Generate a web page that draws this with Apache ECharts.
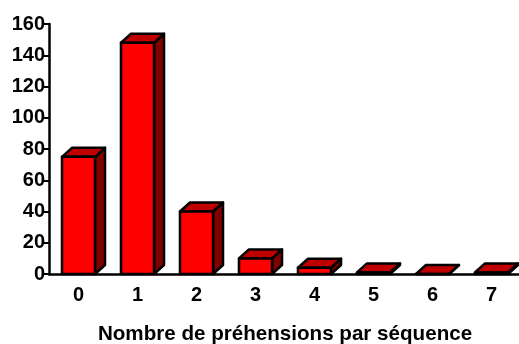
<!DOCTYPE html>
<html>
<head>
<meta charset="utf-8">
<script src="https://cdn.jsdelivr.net/npm/echarts@6/dist/echarts.min.js"></script>
<style>
  html, body { margin: 0; padding: 0; background: #fff; }
  #chart { width: 519px; height: 344px; }
</style>
</head>
<body>
<div id="chart"></div>
<script>
// Number of grasps per sequence and how many sequences had each count
const categories = ['0', '1', '2', '3', '4', '5', '6', '7'];
const counts = [75, 148, 40, 10, 4, 1, 0, 1];
const yTicks = { min: 0, max: 160, step: 20 };
const xTitle = 'Nombre de préhensions par séquence';

const FONT = '"Liberation Sans", Arial, sans-serif';
const DEPTH_X = 10, DEPTH_Y = 9;

// Pseudo-3D bar: front face, top face and right side face
function renderBar(params, api) {
  const idx = api.value(0);
  const val = api.value(1);
  const topPt = api.coord([idx, val]);
  const basePt = api.coord([idx, 0]);
  const w = api.size([1, 0])[0] * 0.56;
  const x0 = topPt[0] - w / 2, x1 = topPt[0] + w / 2;
  const yt = topPt[1], yb = basePt[1];
  const stroke = { stroke: '#000', lineWidth: 2.5, lineJoin: 'round' };
  return {
    type: 'group',
    children: [
      { type: 'polygon',
        shape: { points: [[x1, yb], [x1 + DEPTH_X, yb - DEPTH_Y], [x1 + DEPTH_X, yt - DEPTH_Y], [x1, yt]] },
        style: Object.assign({ fill: '#800000' }, stroke) },
      { type: 'polygon',
        shape: { points: [[x0, yt], [x0 + DEPTH_X, yt - DEPTH_Y], [x1 + DEPTH_X, yt - DEPTH_Y], [x1, yt]] },
        style: Object.assign({ fill: '#c00000' }, stroke) },
      { type: 'rect',
        shape: { x: x0, y: yt, width: w, height: yb - yt },
        style: Object.assign({ fill: '#ff0000' }, stroke) }
    ]
  };
}

const chart = echarts.init(document.getElementById('chart'), null, { renderer: 'canvas' });
chart.setOption({
  animation: false,
  backgroundColor: '#ffffff',
  grid: { left: 49, top: 24, width: 472, height: 250, containLabel: false, outerBoundsMode: 'none' },
  xAxis: {
    type: 'category',
    data: categories,
    boundaryGap: true,
    name: xTitle,
    nameLocation: 'middle',
    nameGap: 50,
    nameTextStyle: { fontFamily: FONT, fontWeight: 'bold', fontSize: 20.6, color: '#000' },
    axisLine: { lineStyle: { color: '#000', width: 2.5 } },
    axisTick: { inside: true, length: 4, lineStyle: { color: '#000', width: 2 } },
    axisLabel: { fontFamily: FONT, fontWeight: 'bold', fontSize: 20, color: '#000', margin: 11 },
    splitLine: { show: false }
  },
  yAxis: {
    type: 'value',
    min: yTicks.min,
    max: yTicks.max,
    interval: yTicks.step,
    axisLine: { show: true, lineStyle: { color: '#000', width: 2.5 } },
    axisTick: { show: true, length: 5, lineStyle: { color: '#000', width: 2 } },
    axisLabel: { fontFamily: FONT, fontWeight: 'bold', fontSize: 20, color: '#000', margin: 4 },
    splitLine: { show: false }
  },
  series: [{
    type: 'custom',
    renderItem: renderBar,
    encode: { x: 0, y: 1 },
    data: counts.map((v, i) => [i, v]),
    clip: false,
    z: 1
  }]
});
</script>
</body>
</html>
